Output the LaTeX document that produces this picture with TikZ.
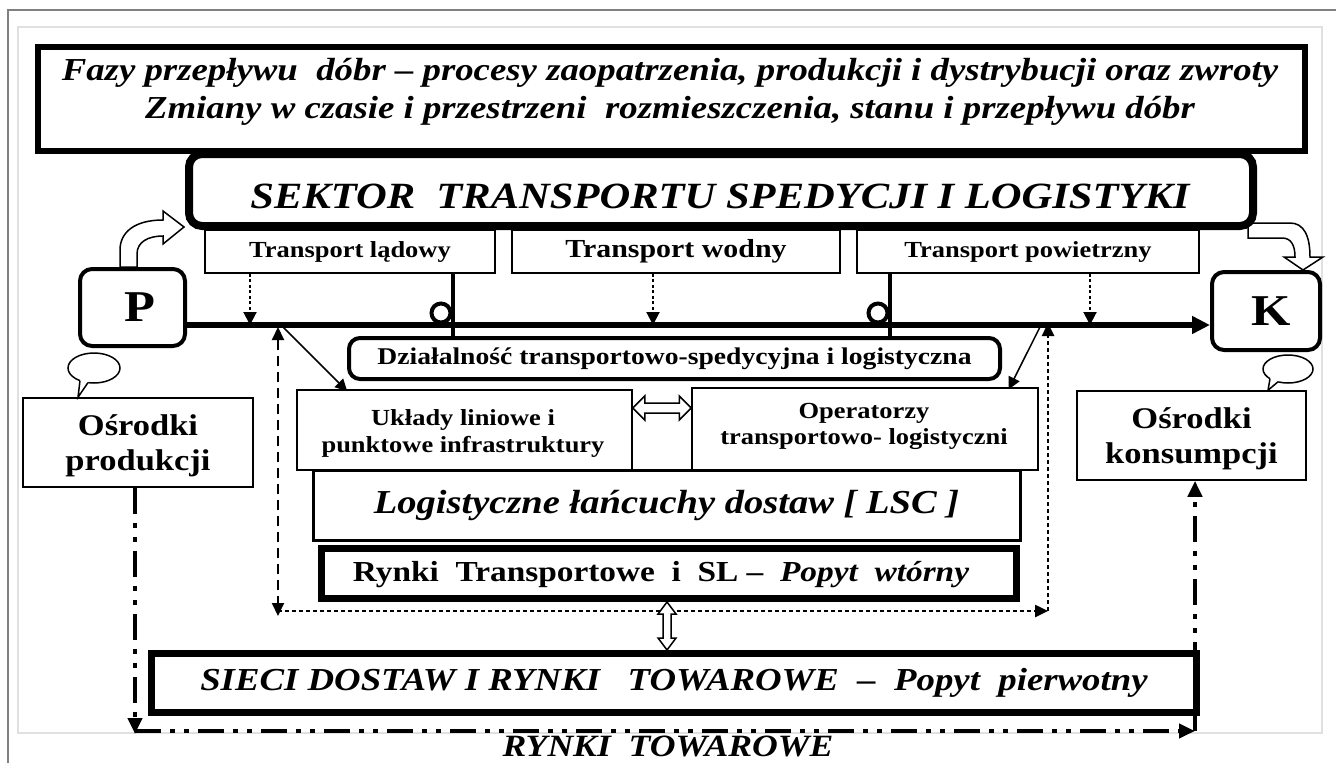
\documentclass[tikz,border=0pt]{standalone}
\usepackage{fontspec}
\setmainfont[FakeStretch=1.15]{Liberation Serif}
\usetikzlibrary{arrows.meta,calc,shapes.geometric}
\begin{document}
\begin{tikzpicture}[x=1pt,y=-1pt,
  box/.style={draw, line width=1.5, inner sep=0pt, align=center},
  txt/.style={inner sep=0pt, align=center},
  thin/.style={line width=1.5},
  tri/.style={-{Triangle[length=12pt,width=12pt]}},
  dotarr/.style={line width=2, dash pattern=on 3pt off 2.5pt, -{Triangle[length=13pt,width=13pt]}},
  dashline/.style={line width=2, dash pattern=on 10pt off 6pt},
  dotline/.style={line width=2.5, dash pattern=on 4pt off 3pt},
  dashdot/.style={line width=4, dash pattern=on 26pt off 9pt on 5pt off 9pt on 5pt off 9pt},
  hop/.style={line width=4},
  blockarrow/.style={draw, fill=white, line width=1.5, line join=miter},
  bubble/.style={draw, ellipse, line width=1.5, fill=white, inner sep=0pt},
]
\useasboundingbox (0,0) rectangle (1336,763);
\fill[white] (0,0) rectangle (1336,763);
% frames
\draw[gray, line width=1.5] (8,763) -- (8,10) -- (1336,10);
\draw[black!12, line width=1.2] (18,27) rectangle (1322,733);

% top box
\node[box, line width=6, minimum width=1267, minimum height=104] (top) at (671.5,99) {};
\node[txt, font=\fontsize{32}{38}\selectfont\bfseries\itshape] (toptxt) at (670,92)
  {Fazy przepływu\ \ dóbr -- procesy zaopatrzenia, produkcji i dystrybucji oraz zwroty\\
   Zmiany w czasie i przestrzeni\ \ rozmieszczenia, stanu i przepływu dóbr};

% K block arrow (behind sektor)
\draw[blockarrow] (1248,223) -- (1290,223) .. controls (1304,223) and (1310,236) .. (1310,257)
  -- (1323,257) -- (1303,270) -- (1284,257) -- (1295,257)
  .. controls (1295,245) and (1291,238) .. (1282,238) -- (1248,238) -- cycle;

% sektor
\node[box, line width=8, rounded corners=13, minimum width=1064, minimum height=72] (sektor) at (721,190) {};
\node[txt, font=\fontsize{37}{40}\selectfont\bfseries\itshape] (sektortxt) at (720,196)
  {SEKTOR\ \ TRANSPORTU SPEDYCJI I LOGISTYKI};

% transport boxes
\node[box, minimum width=290, minimum height=43, font=\fontsize{23}{26}\selectfont\bfseries] (tl) at (350,251.5) {Transport lądowy};
\node[box, minimum width=328, minimum height=43, font=\fontsize{26}{28}\selectfont\bfseries] (tw) at (676,251.5) {Transport wodny};
\node[box, minimum width=342, minimum height=43, font=\fontsize{23}{26}\selectfont\bfseries] (tp) at (1028,251.5) {Transport powietrzny};

% P and K
\node[box, line width=4, rounded corners=12, minimum width=105, minimum height=77,
  font=\fontsize{44}{44}\selectfont\bfseries] (P) at (132.5,307.5) {\hspace*{14pt}P};
\node[box, line width=4, rounded corners=12, minimum width=108, minimum height=78,
  font=\fontsize{44}{44}\selectfont\bfseries] (K) at (1266,311) {\hspace*{10pt}K};

% P block arrow
\draw[blockarrow] ($(P.north)+(-12.5,0)$) -- (120,250) .. controls (120,232) and (135,220) .. (163,220)
  -- (163,211) -- (184,227) -- (163,244) -- (163,236)
  .. controls (148,236) and (137,242) .. (137,254) -- ($(P.north)+(4.5,0)$) -- cycle;

% main line
\coordinate (ml) at (0,325);
\draw[line width=6, -{Triangle[length=18pt,width=17pt]}] (P.east |- ml) -- (K.west |- ml);

% dotted arrows from transport boxes
\draw[dotarr] ([xshift=-100pt]tl.south) -- ([xshift=-100pt]tl.south |- ml);
\draw[dotarr] ([xshift=-23pt]tw.south) -- ([xshift=-23pt]tw.south |- ml);
\draw[dotarr] ([xshift=62pt]tp.south) -- ([xshift=62pt]tp.south |- ml);

% dzialalnosc
\node[box, line width=4, rounded corners=11, minimum width=651, minimum height=41,
  font=\fontsize{24}{26}\selectfont\bfseries] (dz) at (674.5,358.5)
  {Działalność transportowo-spedycyjna i logistyczna};

% hop lines
\draw[hop, fill=white] (441,313) circle[radius=9.5];
\draw[hop] ([xshift=103pt]tl.south) -- ([xshift=103pt]tl.south |- dz.north);
\draw[hop, fill=white] (878,313) circle[radius=9.5];
\draw[hop] ([xshift=-138pt]tp.south) -- ([xshift=-138pt]tp.south |- dz.north);

% uklady / operatorzy
\node[box, minimum width=335, minimum height=80] (uk) at (464.5,430) {};
\node[txt, font=\fontsize{23}{27}\selectfont\bfseries] (uktxt) at (463,433)
  {Układy liniowe i\\ punktowe infrastruktury};
\node[box, minimum width=346, minimum height=82] (op) at (865,429) {};
\node[txt, font=\fontsize{23}{26}\selectfont\bfseries] (optxt) at (864,426)
  {Operatorzy\\ transportowo- logistyczni};

% LSC
\node[box, line width=3, minimum width=707, minimum height=70, font=\fontsize{33.5}{36}\selectfont\bfseries\itshape] (lsc) at (666.5,505)
  {Logistyczne łańcuchy dostaw [ LSC ]};

% rynki transportowe
\node[box, line width=7, minimum width=695, minimum height=50] (rt) at (669,573.5) {};
\node[txt, font=\fontsize{29}{30}\selectfont\bfseries] (rttxt) at (661,575)
  {Rynki\ \ Transportowe\ \ i\ \ SL -- \ {\itshape Popyt\ \ wtórny}};

% sieci
\node[box, line width=7, minimum width=1045, minimum height=59, font=\fontsize{32}{34}\selectfont\bfseries\itshape] (si) at (674,683)
  {SIECI DOSTAW I RYNKI\ \ \ TOWAROWE\ \ --\ \ Popyt\ \ pierwotny};

% osrodki
\node[box, minimum width=230, minimum height=89] (opr) at (138,442.5) {};
\node[txt, font=\fontsize{30}{35}\selectfont\bfseries] (oprtxt) at (138,446) {Ośrodki\\ produkcji};
\node[box, minimum width=229, minimum height=89] (oko) at (1191.5,435.5) {};
\node[txt, font=\fontsize{30}{35}\selectfont\bfseries] (okotxt) at (1191.5,439) {Ośrodki\\ konsumpcji};

% bottom label
\node[txt, font=\fontsize{31}{34}\selectfont\bfseries\itshape] (rtow) at (668,746) {RYNKI\ \ TOWAROWE};

% bubbles
\node[bubble, minimum width=52, minimum height=30] (pb) at (94,368) {};
\fill[white] (81,377) -- (80,381) -- ([xshift=-60pt]opr.north) -- (88,383) -- (89,379) -- cycle;
\draw[thin] (80,380.6) -- ([xshift=-60pt]opr.north) -- (88,382.6);

\node[bubble, minimum width=50, minimum height=28] (kb) at (1288,369) {};
\fill[white] (1271,376) -- (1270,379) -- ([xshift=76.5pt]oko.north) -- (1278,382) -- (1279,379) -- cycle;
\draw[thin] (1270,378.7) -- ([xshift=76.5pt]oko.north) -- (1278,381.8);

% diagonal arrows
\draw[thin, tri] (283,327) -- ([xshift=51pt,yshift=-2pt]uk.north west);
\draw[thin, tri] (1040,327) -- ([xshift=-30pt,yshift=-2pt]op.north east);

% dashed loop
\coordinate (lb) at (278,611);
\coordinate (rb) at (1048,611);
\draw[dashline, {Triangle[length=13pt,width=12pt]}-{Triangle[length=13pt,width=12pt]}] (lb |- ml) ++(0,2) -- ([yshift=-5pt]lb);
\draw[dotline, -{Triangle[length=13pt,width=12pt]}] (lb) -- (rb);
\draw[dotline, -{Triangle[length=13pt,width=12pt]}] (rb) -- ([yshift=2pt]rb |- ml);

% hollow double arrows
\draw[blockarrow] (uk.east |- 0,408) -- ++(12,-12) -- ++(0,7) -- ($(op.west |- 0,403)+(-12,0)$)
  -- ++(0,-7) -- (op.west |- 0,408) -- ++(-12,12) -- ++(0,-7) -- ($(uk.east |- 0,413)+(12,0)$) -- ++(0,7) -- cycle;
\draw[blockarrow] (667,0 |- rt.south) -- ++(9,12) -- ++(-5,0) -- ($(671,0 |- si.north)+(0,-12)$)
  -- ++(5,0) -- (667,0 |- si.north) -- ++(-9,-12) -- ++(5,0) -- ($(663,0 |- rt.south)+(0,12)$) -- ++(-5,0) -- cycle;

% dash-dot market loop
\coordinate (bl) at (135,731);
\coordinate (br) at (1195,731);
\draw[dashdot, -{Triangle[length=16pt,width=14pt]}] (opr.south -| bl) -- ([yshift=-3pt]bl);
\draw[dashdot, -{Triangle[length=16pt,width=14pt]}] (bl) -- (br);
\draw[dashdot, -{Triangle[length=16pt,width=14pt]}] (br) -- (oko.south -| br);
\end{tikzpicture}
\end{document}
